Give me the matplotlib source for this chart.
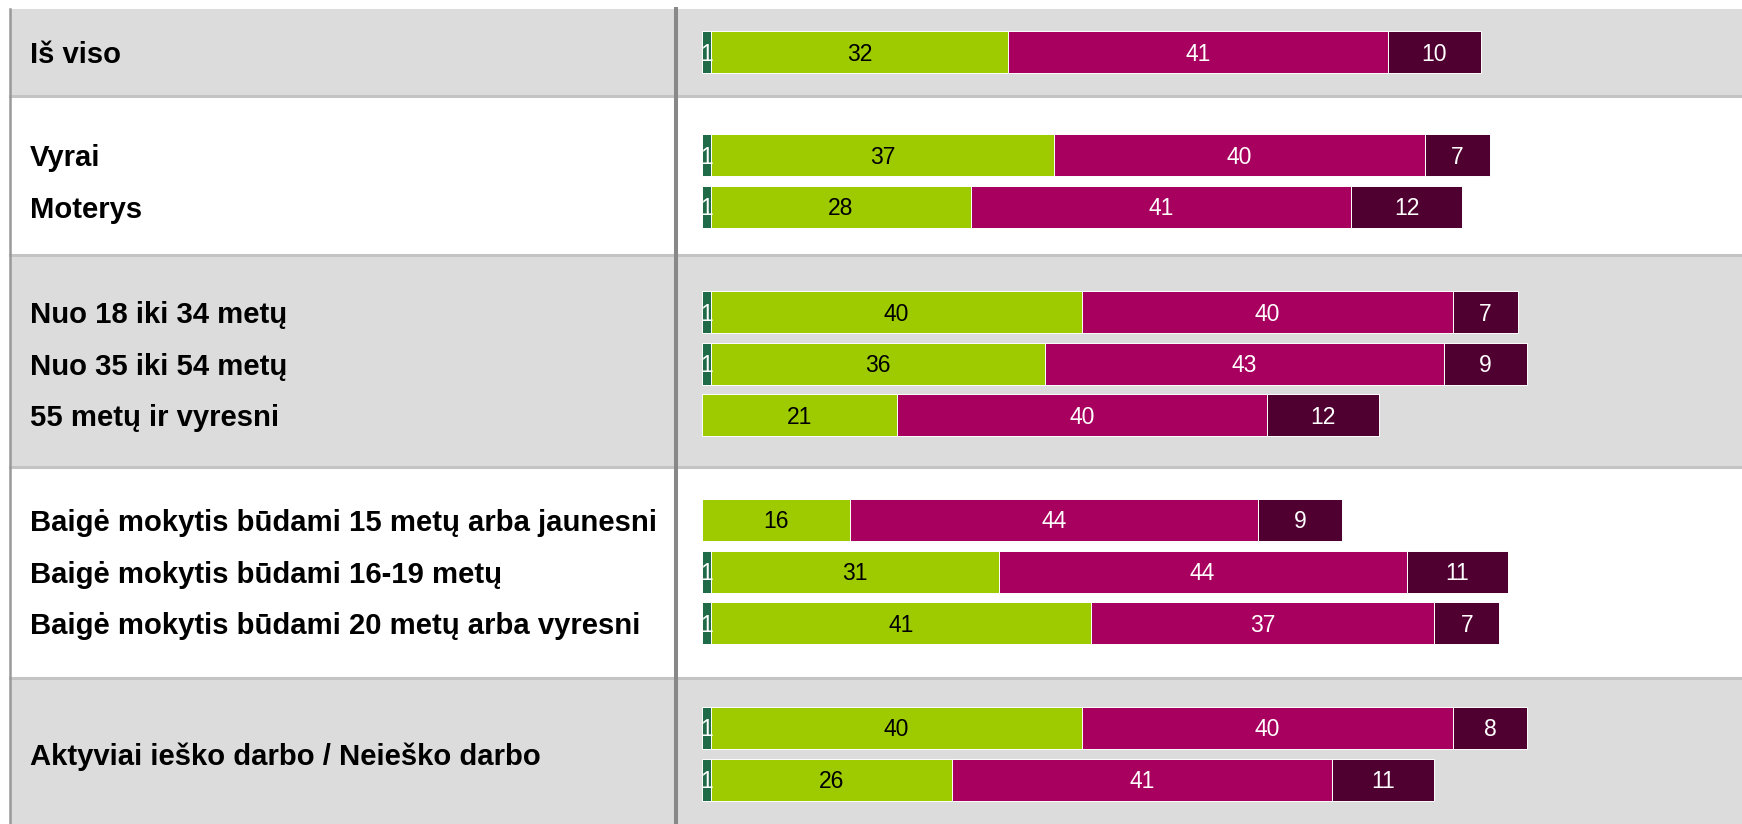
import numpy as np
import matplotlib
matplotlib.use("Agg")
from matplotlib import pyplot as plt

# data
group_labels = [
    ["Iš viso"],
    ["Vyrai", "Moterys"],
    ["Nuo 18 iki 34 metų", "Nuo 35 iki 54 metų", "55 metų ir vyresni"],
    ["Baigė mokytis būdami 15 metų arba jaunesni",
     "Baigė mokytis būdami 16-19 metų",
     "Baigė mokytis būdami 20 metų arba vyresni"],
    ["Aktyviai ieško darbo / Neieško darbo"],
]
bars_per_group = [1, 2, 3, 3, 2]

s1 = [1, 1, 1, 1, 1, 0, 0, 1, 1, 1, 1]
s2 = [32, 37, 28, 40, 36, 21, 16, 31, 41, 40, 26]
s3 = [41, 40, 41, 40, 43, 40, 44, 44, 37, 40, 41]
s4 = [10, 7, 12, 7, 9, 12, 9, 11, 7, 8, 11]

series = [s1, s2, s3, s4]
colors = ["#1f6a47", "#9dcb00", "#a8005f", "#4f0030"]
text_colors = ["white", "black", "white", "white"]

# layout (pixel units)
W, H = 1742, 824
band_edges = [9, 95.5, 254.5, 467, 678, 824]
group_y0 = [52, 155, 312, 520, 728]
row_step = 51.7
bar_h = 42
px_per_unit = 9.27
x0_px = 702

plt.rcParams["font.family"] = ["Liberation Sans", "DejaVu Sans"]

fig = plt.figure(figsize=(W / 100, H / 100), dpi=100)
ax = fig.add_axes([0, 0, 1, 1])
ax.set_xlim(-x0_px / px_per_unit, (W - x0_px) / px_per_unit)
ax.set_ylim(H, 0)
ax.axis("off")

def px(x):
    return (x - x0_px) / px_per_unit

# bands
for i in range(len(band_edges) - 1):
    if i % 2 == 0:
        ax.axhspan(band_edges[i], band_edges[i + 1], xmin=10 / W, xmax=1,
                   color="#dcdcdc", zorder=0, lw=0)
for y in band_edges[1:-1]:
    ax.axhline(y, xmin=10 / W, xmax=1, color="#c4c4c4", lw=2.2, zorder=1)

ax.plot([px(10), px(10)], [band_edges[0], H], color="#999999", lw=1.8, zorder=1)
ax.plot([px(676), px(676)], [band_edges[0], H], color="#888888", lw=2.9, zorder=1)

# bars
ypos = []
for g, n in enumerate(bars_per_group):
    ypos += [group_y0[g] + i * row_step for i in range(n)]
ypos = np.array(ypos)

left = np.zeros(len(ypos))
for vals, c, tc in zip(series, colors, text_colors):
    vals = np.array(vals, dtype=float)
    ax.barh(ypos, vals, left=left, height=bar_h, color=c,
            edgecolor="white", linewidth=0.7, zorder=2)
    for y, l, v in zip(ypos, left, vals):
        if v > 0:
            ax.text(l + v / 2, y + 2, f"{int(v)}", ha="center", va="center",
                    color=tc, fontsize=16.5, zorder=3)
    left += vals

# row labels
k = 0
for g, n in enumerate(bars_per_group):
    ys = ypos[k:k + n]
    labs = group_labels[g]
    if len(labs) == n:
        ly = ys
    else:
        ly = [ys.mean()]
    for t, y in zip(labs, ly):
        ax.text(px(30), y + 3, t, ha="left", va="center", fontsize=21.1,
                fontweight="bold", color="black", zorder=3)
    k += n

fig.savefig("out.png", dpi=100)
